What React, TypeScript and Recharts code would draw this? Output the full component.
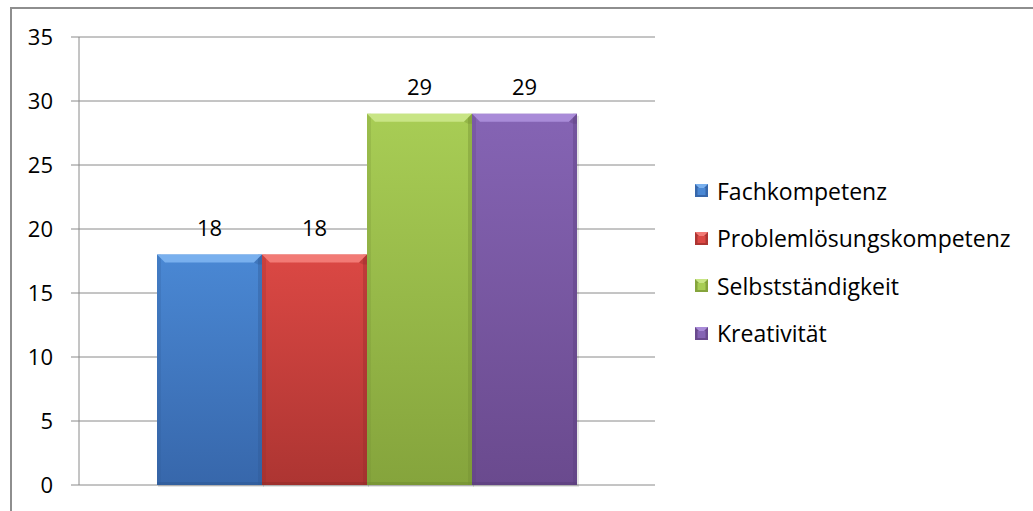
import React from "react";
import {
  BarChart,
  Bar,
  XAxis,
  YAxis,
  CartesianGrid,
  LabelList,
} from "recharts";

const seriesNames = [
  "Fachkompetenz",
  "Problemlösungskompetenz",
  "Selbstständigkeit",
  "Kreativität",
];
const seriesValues = [18, 18, 29, 29];
const yTicks = [0, 5, 10, 15, 20, 25, 30, 35];

// top / bottom / bevel colours per series
const palette = [
  { top: "#4a88d4", bottom: "#3767ab", light: "#79b0ee", dark: "#2f5a96" },
  { top: "#db4844", bottom: "#ad3532", light: "#f27a75", dark: "#952d2a" },
  { top: "#a8cd55", bottom: "#85a43c", light: "#c8e585", dark: "#738f32" },
  { top: "#8564b4", bottom: "#6a4a8e", light: "#a98bd8", dark: "#5b3f7c" },
];

const FONT = "'Open Sans', sans-serif";

const row: Record<string, string | number> = { name: "" };
seriesValues.forEach((v, i) => {
  row[`s${i}`] = v;
});
const chartData = [row];

type ShapeProps = {
  x?: number;
  y?: number;
  width?: number;
  height?: number;
};

// bevelled bar, roughly like an office 3D preset
const makeBevelBar = (idx: number) => (props: ShapeProps) => {
  const { x = 0, y = 0, width = 0, height = 0 } = props;
  const c = palette[idx];
  const b = Math.min(8, height / 2);
  const s = 4;
  return (
    <g>
      <rect
        x={x + 1}
        y={y + 2}
        width={width + 1}
        height={height}
        fill="#000"
        opacity={0.1}
      />
      <rect x={x} y={y} width={width} height={height} fill={`url(#grad${idx})`} />
      {/* side strips */}
      <rect x={x} y={y} width={s} height={height} fill={c.dark} opacity={0.25} />
      <rect x={x + width - s} y={y} width={s} height={height} fill={c.dark} opacity={0.4} />
      <rect x={x} y={y + height - 3} width={width} height={3} fill={c.dark} opacity={0.6} />
      {/* top bevel */}
      <polygon
        points={`${x},${y} ${x + width},${y} ${x + width - b},${y + b} ${x + b},${y + b}`}
        fill={c.light}
      />
      <polygon
        points={`${x + width},${y} ${x + width - b},${y + b} ${x + width - s},${y + b + 2} ${x + width},${y + b + 2}`}
        fill={c.dark}
        opacity={0.35}
      />
    </g>
  );
};

const ChartLegend = () => (
  <div
    style={{
      position: "absolute",
      left: 695,
      top: 167,
      fontFamily: FONT,
      fontSize: 23,
      color: "#000",
    }}
  >
    {seriesNames.map((name, i) => (
      <div key={name} style={{ display: "flex", alignItems: "center", height: 47.5 }}>
        <svg width={13} height={13} style={{ marginRight: 9 }}>
          <rect x={0} y={0} width={13} height={13} fill={palette[i].bottom} />
          <polygon points="0,0 13,0 6.5,6.5" fill={palette[i].light} />
          <rect x={2.5} y={4} width={8} height={7} fill={palette[i].top} />
        </svg>
        <span>{name}</span>
      </div>
    ))}
  </div>
);

export default function App() {
  return (
    <div
      style={{
        position: "absolute",
        left: 0,
        top: 0,
        width: 1033,
        height: 511,
        overflow: "hidden",
        background: "#fff",
      }}
    >
      <div
        style={{
          position: "absolute",
          left: 10,
          top: 7,
          width: 1100,
          height: 600,
          border: "2px solid #8e8e8e",
        }}
      />
      <div style={{ position: "absolute", left: 0, top: 0 }}>
        <BarChart
          width={1033}
          height={511}
          data={chartData}
          margin={{ top: 37, right: 378, bottom: 26, left: 0 }}
          barGap={0}
          barCategoryGap={78}
        >
          <defs>
            {palette.map((c, i) => (
              <linearGradient key={i} id={`grad${i}`} x1="0" y1="0" x2="0" y2="1">
                <stop offset="0%" stopColor={c.top} />
                <stop offset="100%" stopColor={c.bottom} />
              </linearGradient>
            ))}
          </defs>
          <CartesianGrid vertical={false} stroke="#8a8a8a" strokeWidth={1} />
          <XAxis dataKey="name" hide height={0} />
          <YAxis
            domain={[0, 35]}
            ticks={yTicks}
            width={79}
            tickSize={8}
            tickMargin={18}
            axisLine={{ stroke: "#8a8a8a" }}
            tickLine={{ stroke: "#8a8a8a" }}
            tick={{ fontFamily: FONT, fontSize: 22, fill: "#000" }}
            interval={0}
          />
          {seriesNames.map((name, i) => (
            <Bar
              key={name}
              dataKey={`s${i}`}
              name={name}
              fill={palette[i].top}
              shape={makeBevelBar(i)}
              isAnimationActive={false}
            >
              <LabelList
                dataKey={`s${i}`}
                position="top"
                offset={19}
                style={{ fontFamily: FONT, fontSize: 22, fill: "#000" }}
              />
            </Bar>
          ))}
        </BarChart>
      </div>
      <ChartLegend />
    </div>
  );
}
